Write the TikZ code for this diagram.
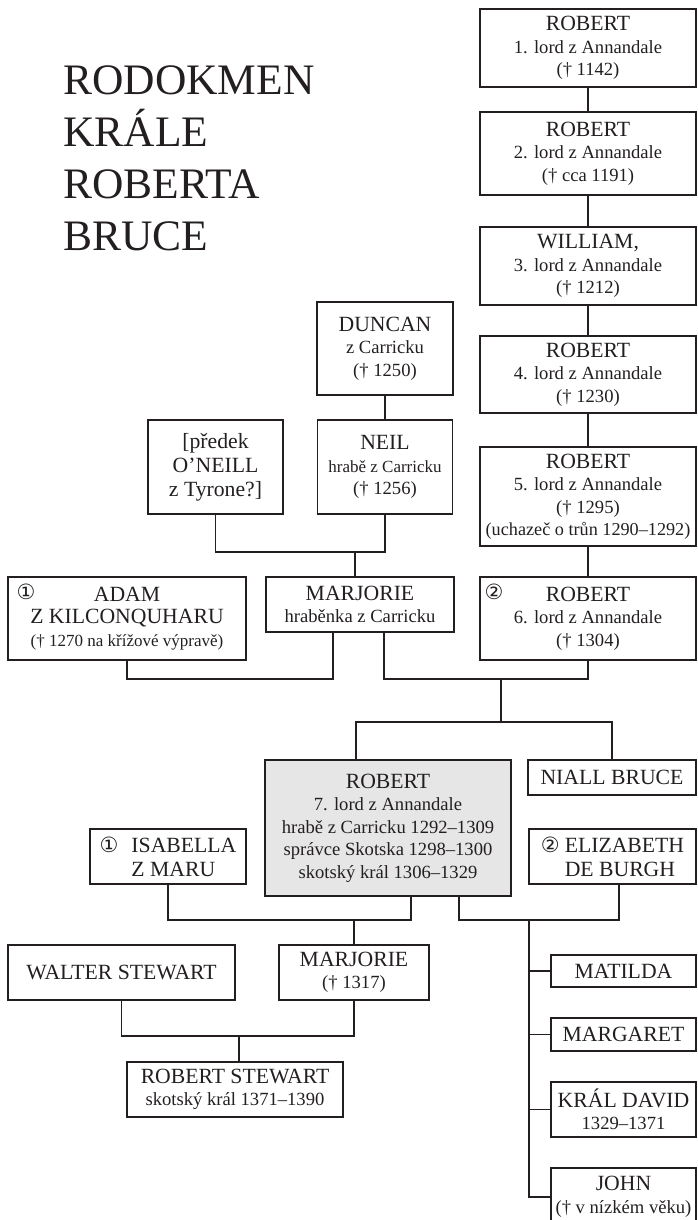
\documentclass[tikz,border=0pt]{standalone}
\usepackage{fontspec}
\setmainfont{Liberation Serif}
\newfontfamily\circfont{DejaVu Sans}
\usetikzlibrary{positioning}
\definecolor{ink}{HTML}{231F20}
\definecolor{boxgray}{HTML}{E6E6E7}
\newcommand{\namefont}{\fontsize{21.7}{24}\selectfont}
\newcommand{\subfont}{\fontsize{18.6}{22.5}\selectfont}
\newcommand{\narrowfont}{\fontsize{17}{21}\selectfont}
\newcommand{\titlefont}{\fontsize{43.5}{52}\selectfont}
\newcommand{\markfont}{\circfont\fontsize{21}{21}\selectfont}
\tikzset{% 
  family box/.style={%
    draw=ink,
    line width=1.15pt,
    align=center,
    inner sep=0pt,
    text=ink,
    font=\subfont
  }
}
\tikzset{% 
  family line/.style={%
    draw=ink,
    line width=1.15pt
  }
}
\tikzset{% 
  marker/.style={%
    font=\markfont,
    text=ink,
    inner sep=0pt
  }
}
\begin{document}
\begin{tikzpicture}[x=1pt,y=-1pt]
  \useasboundingbox (0,0) rectangle (697,1220);
  \node [anchor=north west, align=left, inner sep=0pt, text=ink, font=\titlefont] (title) at (63,65) {RODOKMEN\\KRÁLE\\ROBERTA\\BRUCE};
  % Annandale line
  \node [family box, minimum width=216, minimum height=78] (rob1) at (588,48) {{\namefont ROBERT}\\1. lord z Annandale\\(† 1142)};
  \node [family box, minimum width=216, minimum height=83] (rob2) at (588,153.5) {{\namefont ROBERT}\\2. lord z Annandale\\(† cca 1191)};
  \node [family box, minimum width=216, minimum height=78] (will3) at (588,266) {{\namefont WILLIAM,}\\3. lord z Annandale\\(† 1212)};
  \node [family box, minimum width=216, minimum height=77] (rob4) at (588,374.5) {{\namefont ROBERT}\\4. lord z Annandale\\(† 1230)};
  \node [family box, minimum width=216, minimum height=99] (rob5) at (588,496.5) {{\namefont ROBERT}\\5. lord z Annandale\\(† 1295)\\{\fontsize{18.2}{22.5}\selectfont (uchazeč o trůn 1290–1292)}};
  \node [family box, minimum width=216, minimum height=83] (rob6) at (588,618.5) {{\namefont ROBERT}\\6. lord z Annandale\\(† 1304)};
  \node [marker] (rob6no) at (494,592) {②};
  % Carrick line
  \node [family box, minimum width=136, minimum height=93] (duncan) at (385,348.5) {{\namefont DUNCAN}\\z Carricku\\(† 1250)};
  \node [family box, minimum width=135, minimum height=94] (neil) at (385,467) {{\namefont NEIL}\\{\narrowfont hrabě z Carricku}\\(† 1256)};
  \node [family box, minimum width=135, minimum height=94, font=\namefont] (predek) at (215.5,467) {[předek\\O’NEILL\\z Tyrone?]};
  \node [family box, minimum width=188, minimum height=55] (marj) at (360,604.5) {{\namefont MARJORIE}\\hraběnka z Carricku};
  \node [family box, minimum width=238, minimum height=83] (adam) at (127,618.5) {{\namefont ADAM}\\{\namefont Z KILCONQUHARU}\\{\narrowfont († 1270 na křížové výpravě)}};
  \node [marker] (adamno) at (26,592) {①};
  % Robert Bruce and family
  \node [family box, fill=boxgray, minimum width=246, minimum height=136] (rob7) at (388,828) {{\namefont ROBERT}\\7. lord z Annandale\\hrabě z Carricku 1292–1309\\správce Skotska 1298–1300\\skotský král 1306–1329};
  \node [family box, minimum width=168, minimum height=35, font=\namefont] (niall) at (612,777.5) {NIALL BRUCE};
  \node [family box, minimum width=156, minimum height=55, font=\namefont, align=left] (isab) at (168,856.5) {{\markfont ①}\hspace{13pt}ISABELLA\\\hphantom{{\markfont ①}\hspace{13pt}}Z MARU};
  \node [family box, minimum width=167, minimum height=55, font=\namefont, align=left] (eliz) at (612.5,856.5) {{\markfont ②}\hspace{5pt}ELIZABETH\\\hphantom{{\markfont ②}\hspace{5pt}}DE BURGH};
  \node [family box, minimum width=227, minimum height=55, font=\namefont] (walter) at (121.5,972.5) {WALTER STEWART};
  \node [family box, minimum width=150, minimum height=55] (marj2) at (354,972.5) {{\namefont MARJORIE}\\(† 1317)};
  \node [family box, minimum width=216, minimum height=55] (rstew) at (235,1089.5) {{\namefont ROBERT STEWART}\\skotský král 1371–1390};
  \node [family box, minimum width=145, minimum height=32, font=\namefont] (matilda) at (623.5,971) {MATILDA};
  \node [family box, minimum width=145, minimum height=33, font=\namefont] (margaret) at (623.5,1034.5) {MARGARET};
  \node [family box, minimum width=145, minimum height=55] (david) at (623.5,1109.5) {{\namefont KRÁL DAVID}\\1329–1371};
  \node [family box, minimum width=145, minimum height=58] (john) at (623.5,1197) {{\namefont JOHN}\\(† v nízkém věku)};
  % descent lines
  \draw [family line] (rob1) -- (rob2);
  \draw [family line] (rob2) -- (will3);
  \draw [family line] (will3) -- (rob4);
  \draw [family line] (rob4) -- (rob5);
  \draw [family line] (rob5) -- (rob6);
  \draw [family line] (duncan) -- (neil);
  \coordinate (neiljoin) at (355,552);
  \draw [family line] (predek.south) |- (neiljoin) -| (neil.south);
  \draw [family line] (neiljoin) -- (neiljoin |- marj.north);
  \coordinate (adamjoin) at (333,679);
  \draw [family line] (adam.south) |- (adamjoin) -- (adamjoin |- marj.south);
  \coordinate (marjright) at (384,679);
  \coordinate (rob6join) at (501,679);
  \coordinate (sibjoin) at (501,722);
  \coordinate (rob7top) at (356,722);
  \draw [family line] (marjright |- marj.south) -- (marjright) -| (rob6.south);
  \draw [family line] (rob6join) -- (sibjoin);
  \draw [family line] (rob7top |- rob7.north) -- (rob7top) -| (niall.north);
  \coordinate (isajoin) at (354,920);
  \coordinate (rob7left) at (411,920);
  \draw [family line] (isab.south) |- (rob7left) -- (rob7left |- rob7.south);
  \draw [family line] (isajoin) -- (isajoin |- marj2.north);
  \coordinate (rob7right) at (459,920);
  \coordinate (elizjoin) at (619,920);
  \draw [family line] (rob7right |- rob7.south) -- (rob7right) -- (elizjoin) -- (elizjoin |- eliz.south);
  \coordinate (kids) at (529,920);
  \draw [family line] (kids) |- (john.west);
  \foreach \kid in {matilda,margaret,david}
    \draw [family line] (kids |- \kid.west) -- (\kid.west);
  \coordinate (stewjoin) at (239,1036);
  \draw [family line] (walter.south) |- (stewjoin) -| (marj2.south);
  \draw [family line] (stewjoin) -- (stewjoin |- rstew.north);
\end{tikzpicture}
\end{document}
